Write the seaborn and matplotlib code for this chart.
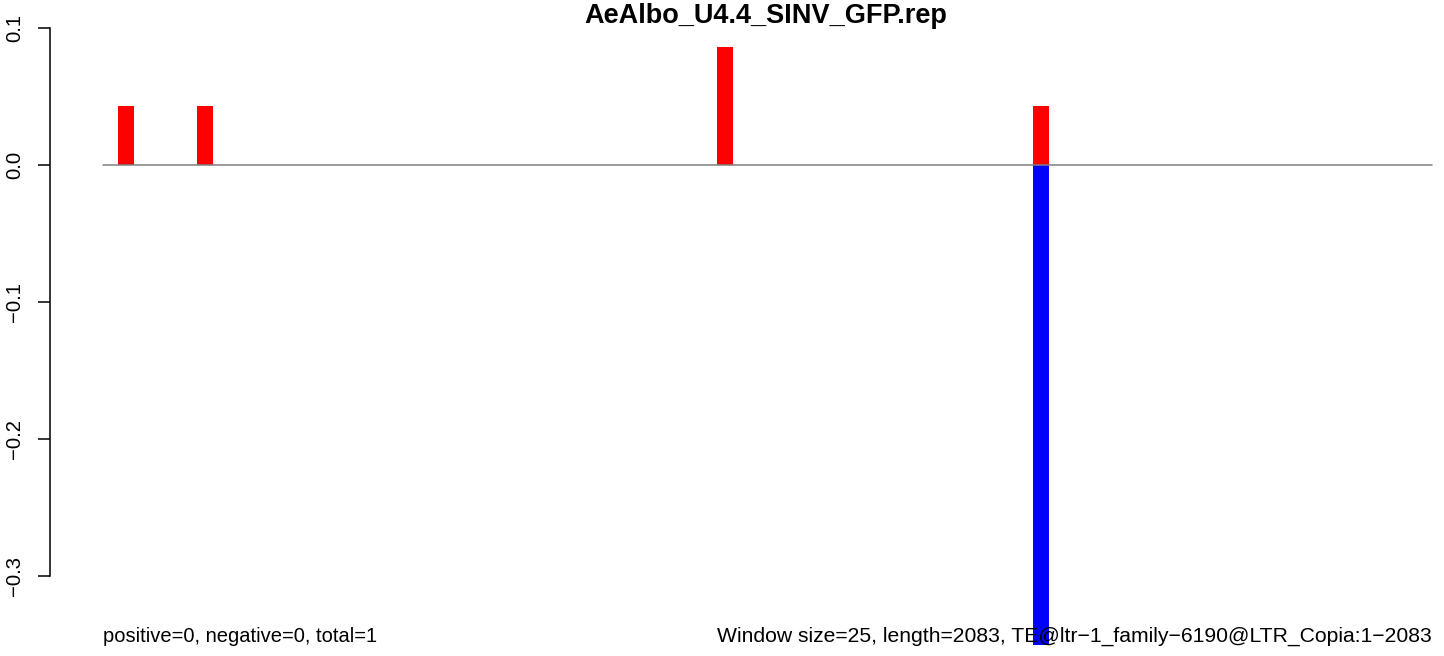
import numpy as np
import pandas as pd
import matplotlib.pyplot as plt
import seaborn as sns

# window-level counts, window size 25 over length 2083 -> 84 windows
n_windows = 84
plus_windows = [1, 6, 39, 59]
plus_values = [0.043, 0.043, 0.086, 0.043]
minus_windows = [59]
minus_values = [-0.375]  # runs off the bottom of the plot

title = "AeAlbo_U4.4_SINV_GFP.rep"
left_note = "positive=0, negative=0, total=1"
right_note = "Window size=25, length=2083, TE@ltr\u22121_family\u22126190@LTR_Copia:1\u22122083"
yticks = [-0.3, -0.2, -0.1, 0.0, 0.1]

plus = np.zeros(n_windows)
plus[plus_windows] = plus_values
minus = np.zeros(n_windows)
minus[minus_windows] = minus_values
df = pd.DataFrame({"window": np.arange(n_windows), "plus": plus, "minus": minus})

sns.set_style("white")
plt.rcParams["font.family"] = ["Liberation Sans", "DejaVu Sans"]
plt.rcParams["text.color"] = "black"
plt.rcParams["ytick.color"] = "black"

W, H = 1444, 656
fig = plt.figure(figsize=(W / 100, H / 100), dpi=100)
# plot region in pixels: left 50, right 1481 (runs past the edge), top 28, bottom 645
ax = fig.add_axes([50 / W, (H - 645) / H, 1431 / W, 617 / H])

sns.barplot(data=df, x="window", y="plus", color="#ff0000", saturation=1,
            width=1, linewidth=0, errorbar=None, ax=ax)
sns.barplot(data=df, x="window", y="minus", color="#0000ff", saturation=1,
            width=1, linewidth=0, errorbar=None, ax=ax)

ext = 0.04 * n_windows
ax.set_xlim(-0.45 - ext, n_windows - 0.45 + ext)
ax.set_ylim(-0.35, 0.1)
ax.plot([-0.45, n_windows - 0.2], [0, 0], color="#808080", lw=1.1, zorder=3)

for s in ["top", "right", "bottom"]:
    ax.spines[s].set_visible(False)
ax.spines["left"].set_bounds(-0.3, 0.1)
ax.spines["left"].set_color("black")
ax.spines["left"].set_linewidth(1.1)
ax.set_xticks([])
ax.set_xlabel("")
ax.set_ylabel("")
ax.set_yticks(yticks)
ax.set_yticklabels([f"{v:.1f}".replace("-", "\u2212") for v in yticks],
                   rotation=90, va="center", fontsize=14.6, color="black")
ax.tick_params(axis="y", left=True, length=8.5, width=1.1, pad=10, color="black")

ax.text(0.5, 1 + 5 / 617, title, transform=ax.transAxes, ha="center",
        va="baseline", fontsize=19.5, fontweight="bold")
trans = ax.get_xaxis_transform()
ax.text(-0.45, 3 / 617, left_note, transform=trans, ha="left", va="baseline",
        fontsize=14.5, zorder=5)
ax.text(n_windows - 0.2, 3 / 617, right_note, transform=trans, ha="right",
        va="baseline", fontsize=15.2, zorder=5)

fig.savefig("out.png", dpi=100)
